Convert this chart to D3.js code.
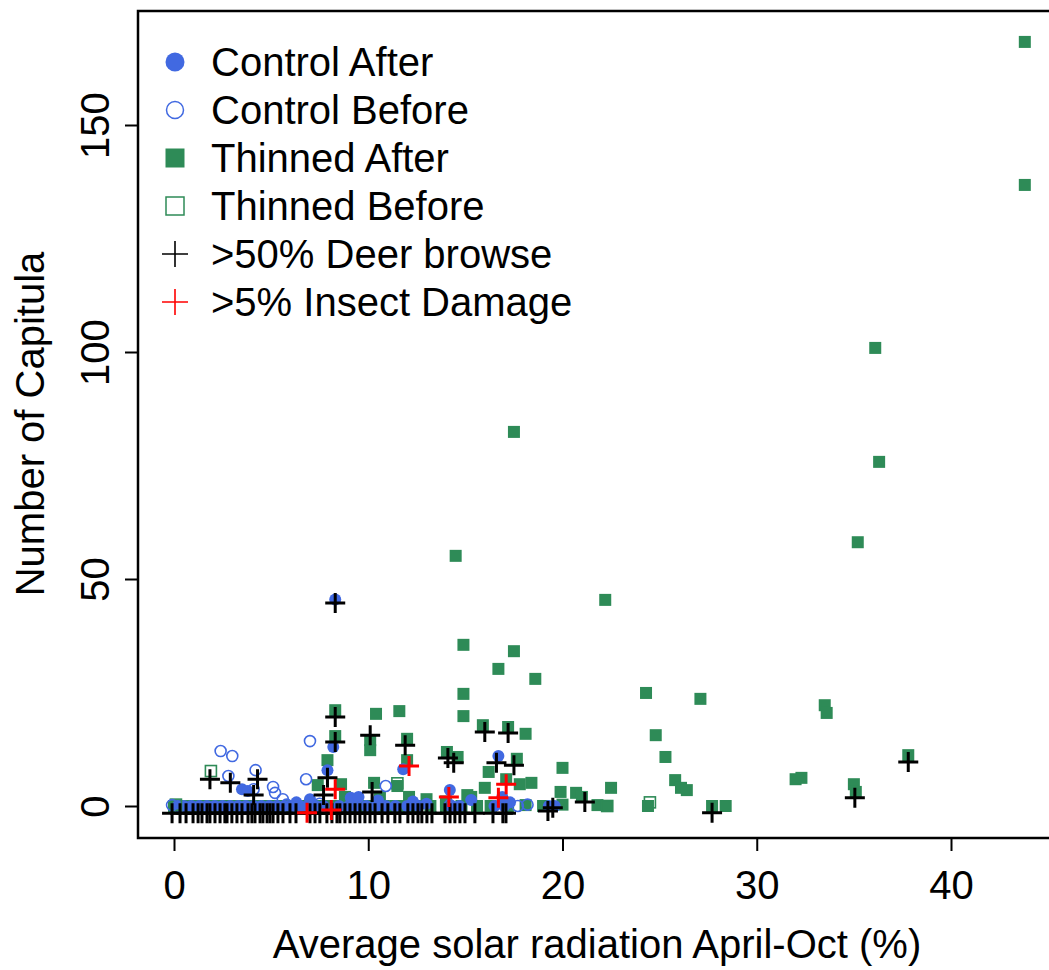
<!DOCTYPE html>
<html><head><meta charset="utf-8">
<script src="https://cdn.jsdelivr.net/npm/d3@7/dist/d3.min.js"></script>
<style>body{margin:0;background:#fff}svg{display:block}text{font-family:"Liberation Sans",Arial,Helvetica,sans-serif;fill:#000}</style>
</head><body>
<svg id="c" width="1049" height="970"></svg>
<script>
// ---- data ----
const xTicks = [0, 10, 20, 30, 40];
const yTicks = [0, 50, 100, 150];
const legendLabels = ["Control After", "Control Before", "Thinned After", "Thinned Before", ">50% Deer browse", ">5% Insect Damage"];

const controlAfter = [
  [0.2,0],[0.5,0],[0.9,0],[1.3,0],[1.7,0],[2.1,0],[2.5,0],[2.9,0],[3.3,0],[3.7,0],[4.1,0],[4.5,0],[4.9,0],[5.3,0],[5.7,0],[6.1,0],[6.5,0],[6.9,0],[7.3,0],[7.7,0],[8.5,0],[9.0,0],[9.4,0],[9.9,0],[10.4,0],[10.9,0],[11.4,0],[12.0,0],[12.6,0],[14.3,0],[14.7,0],[16.5,0],[17.0,0],[19.3,0],[19.6,0],
  [3.5,3.7],[3.8,3.3],[8.3,45.5],[8.2,13.0],[7.9,7.9],[11.8,8.1],[14.2,3.5],[16.7,11.0],[9.1,1.8],[9.5,2.0],[6.3,0.8],[7.0,1.5],[10.5,1.2],[12.3,1.0],[15.3,1.3],[16.9,2.0],[17.3,0.8],[13.0,0.5]
];
const controlBefore = [
  [2.4,12.1],[3.0,11.0],[7.0,14.3],[2.8,6.6],[4.2,7.9],[6.8,5.9],[5.1,4.2],[5.2,2.9],[5.6,1.5],[4.1,3.7],[-0.1,0.2],[10.9,4.4],[14.2,0.2],[17.7,0],[18.2,0.3],[7.5,0.5],[5.8,0.3]
];
const thinnedAfter = [
  [0,0],[0.4,0],[0.8,0],[1.2,0],[1.7,0],[2.1,0],[2.5,0],[3.0,0],[3.4,0],[3.9,0],[4.4,0],[4.8,0],[5.4,0],[5.9,0],[6.3,0],[6.9,0],[7.4,0],[7.9,0],[8.4,0],[8.9,0],[9.3,0],[9.9,0],[10.4,0],[10.8,0],[11.4,0],[11.9,0],[12.5,0],[13.2,0],[14.0,0],[14.8,0],[15.6,0],[16.3,0],[17.2,0],[18.1,0.2],[19.0,0],[20.0,0.3],[21.8,0.2],[22.3,0],[24.4,0],[27.7,0],[28.4,0],
  [43.8,168.3],[43.8,136.8],[36.1,100.9],[36.3,75.8],[35.2,58.1],[17.5,82.4],[14.5,55.1],[22.2,45.4],[14.9,35.5],[17.5,34.1],[16.7,30.2],[18.6,28.0],[14.9,24.7],[24.3,24.9],[27.1,23.6],[33.5,22.2],[33.6,20.5],[14.9,19.8],[10.4,20.3],[11.6,20.9],[8.3,21.1],[24.8,15.6],[18.1,15.9],[25.3,10.8],[15.9,17.8],[17.2,17.4],[12.0,14.8],[8.3,15.4],[10.1,14.5],[10.1,12.3],[14.05,11.9],[14.6,10.8],[12.0,10.1],[17.65,10.4],[37.8,11.2],[20.0,8.4],[25.8,5.7],[26.1,4.0],[26.4,3.5],[32.0,5.9],[32.3,6.2],[35.0,4.8],[35.1,3.1],[22.5,4.0],[20.7,2.9],[21.0,2.0],[7.9,10.1],[16.2,7.5],[17.1,5.9],[18.4,5.1],[17.8,4.8],[19.9,3.1],[15.3,2.0],[15.1,2.4],[10.3,5.1],[7.4,4.6],[8.6,4.8],[11.5,4.4],[10.6,2.0],[12.1,2.0],[13.0,1.5],[14.0,1.0],[8.8,2.0],[16.0,4.0]
];
const thinnedBefore = [[1.9,7.7],[11.5,5.0],[22.3,0],[24.5,0.8],[0.1,0.3]];
const deerBrowse = [
  [-0.1,-1.6],[0.31,-1.6],[0.62,-1.6],[0.98,-1.6],[1.24,-1.6],[1.44,-1.6],[1.70,-1.6],[1.85,-1.6],[2.11,-1.6],[2.37,-1.6],[2.62,-1.6],[2.73,-1.6],[2.98,-1.6],[3.24,-1.6],[3.50,-1.6],[3.81,-1.6],[4.01,-1.6],[4.17,-1.6],[4.43,-1.6],[4.58,-1.6],[4.79,-1.6],[4.94,-1.6],[5.10,-1.6],[5.35,-1.6],[5.61,-1.6],[5.97,-1.6],[6.28,-1.6],[7.0,-1.6],[7.26,-1.6],[7.51,-1.6],[7.87,-1.6],[8.13,-1.6],[8.39,-1.6],[8.54,-1.6],[8.80,-1.6],[9.06,-1.6],[9.32,-1.6],[9.57,-1.6],[9.83,-1.6],[10.09,-1.6],[10.35,-1.6],[10.71,-1.6],[11.01,-1.6],[11.37,-1.6],[11.63,-1.6],[12.04,-1.6],[12.30,-1.6],[12.56,-1.6],[12.76,-1.6],[13.02,-1.6],[13.28,-1.6],[13.95,-1.6],[14.21,-1.6],[14.46,-1.6],[14.72,-1.6],[14.98,-1.6],[15.49,-1.6],[16.42,-1.6],[16.93,-1.6],[17.09,-1.6],
  [8.3,44.7],[8.3,19.6],[8.3,14.1],[10.1,15.6],[11.9,13.4],[14.1,10.6],[14.4,9.5],[16.0,16.3],[17.2,16.1],[16.6,9.5],[17.5,9.0],[10.2,3.1],[7.9,6.2],[7.7,2.4],[1.85,5.9],[2.9,5.1],[4.3,5.9],[4.1,2.4],[37.8,9.7],[35.05,1.8],[21.15,0.9],[19.25,-1.1],[19.5,-0.4],[27.7,-1.5]
];
const insectDamage = [[6.85,-1.5],[8.1,-0.9],[8.3,3.7],[12.1,8.8],[14.15,2.0],[16.7,1.8],[17.1,4.8]];

// ---- drawing ----
const svg = d3.select("#c");
const L = 138, T = 11, R = 1052, B = 838;
const x = d3.scaleLinear().domain([0, 40]).range([174, 951]);
const y = d3.scaleLinear().domain([0, 150]).range([806, 125]);
const blue = "#4169E1", green = "#2E8B57", red = "#FF0000";
const FS = 40;

const plot = svg.append("g");
// Thinned After (filled squares)
plot.selectAll(".ta").data(thinnedAfter).join("rect")
  .attr("x", d => x(d[0]) - 6).attr("y", d => y(d[1]) - 6).attr("width", 12).attr("height", 12).attr("fill", green);
// Control After (filled circles)
plot.selectAll(".ca").data(controlAfter).join("circle")
  .attr("cx", d => x(d[0])).attr("cy", d => y(d[1])).attr("r", 6).attr("fill", blue);
// Thinned Before (open squares)
plot.selectAll(".tb").data(thinnedBefore).join("rect")
  .attr("x", d => x(d[0]) - 5.5).attr("y", d => y(d[1]) - 5.5).attr("width", 11).attr("height", 11)
  .attr("fill", "none").attr("stroke", green).attr("stroke-width", 1.6);
// Control Before (open circles)
plot.selectAll(".cb").data(controlBefore).join("circle")
  .attr("cx", d => x(d[0])).attr("cy", d => y(d[1])).attr("r", 5.5)
  .attr("fill", "none").attr("stroke", blue).attr("stroke-width", 1.6);
// plus marks
function plus(sel, data, color, half, sw) {
  sel.selectAll(null).data(data).join("path")
    .attr("d", d => { const cx = x(d[0]), cy = y(d[1]); return `M${cx-half},${cy}H${cx+half}M${cx},${cy-half}V${cy+half}`; })
    .attr("stroke", color).attr("stroke-width", sw).attr("fill", "none");
}
plus(plot, deerBrowse, "#000", 10, 3);
plus(plot, insectDamage, red, 10, 3);

// box
svg.append("rect").attr("x", L).attr("y", T).attr("width", R - L).attr("height", B - T)
  .attr("fill", "none").attr("stroke", "#000").attr("stroke-width", 2.5);

// axes
const xa = svg.append("g").attr("transform", `translate(0,${B})`)
  .call(d3.axisBottom(x).tickValues(xTicks).tickSize(13).tickPadding(20).tickFormat(d3.format("d")));
xa.select(".domain").remove();
xa.selectAll("line").attr("stroke-width", 2);
xa.selectAll("text").attr("font-size", FS).attr("font-family", "Liberation Sans, Arial, sans-serif");

const ya = svg.append("g").attr("transform", `translate(${L},0)`)
  .call(d3.axisLeft(y).tickValues(yTicks).tickSize(13).tickFormat(d3.format("d")));
ya.select(".domain").remove();
ya.selectAll("line").attr("stroke-width", 2);
ya.selectAll("text").attr("font-size", FS).attr("font-family", "Liberation Sans, Arial, sans-serif")
  .attr("transform", "rotate(-90)").attr("x", 0).attr("y", -29).attr("dy", 0).attr("text-anchor", "middle");

// titles
svg.append("text").attr("x", 597).attr("y", 958).attr("text-anchor", "middle").attr("font-size", FS)
  .text("Average solar radiation April-Oct (%)");
svg.append("text").attr("transform", "translate(44,424) rotate(-90)").attr("text-anchor", "middle").attr("font-size", FS)
  .text("Number of Capitula");

// legend
const lg = svg.append("g");
const rowY = i => 62 + i * 48;
const sx = 175;
lg.append("circle").attr("cx", sx).attr("cy", rowY(0)).attr("r", 9.5).attr("fill", blue);
lg.append("circle").attr("cx", sx).attr("cy", rowY(1)).attr("r", 8.5).attr("fill", "none").attr("stroke", blue).attr("stroke-width", 1.5);
lg.append("rect").attr("x", sx - 9.5).attr("y", rowY(2) - 9.5).attr("width", 19).attr("height", 19).attr("fill", green);
lg.append("rect").attr("x", sx - 9).attr("y", rowY(3) - 9).attr("width", 18).attr("height", 18).attr("fill", "none").attr("stroke", green).attr("stroke-width", 1.5);
[["#000", 4], [red, 5]].forEach(([c, i]) => {
  lg.append("path").attr("d", `M${sx-13},${rowY(i)}H${sx+13}M${sx},${rowY(i)-13}V${rowY(i)+13}`)
    .attr("stroke", c).attr("stroke-width", 1.6);
});
lg.selectAll(".lt").data(legendLabels).join("text")
  .attr("x", 211).attr("y", (d, i) => rowY(i)).attr("dy", "0.36em").attr("font-size", FS).text(d => d);
</script>
</body></html>
